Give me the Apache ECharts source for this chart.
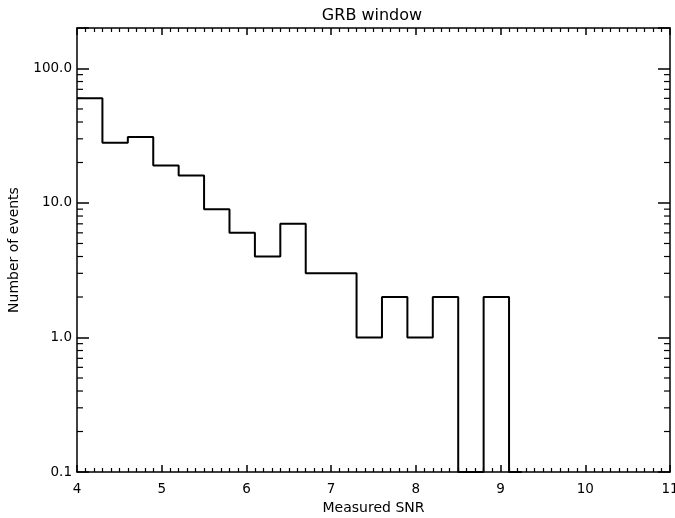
<!DOCTYPE html>
<html>
<head>
<meta charset="utf-8">
<script src="https://cdn.jsdelivr.net/npm/echarts@6/dist/echarts.min.js"></script>
<style>
  html, body { margin: 0; padding: 0; background: #fff; }
  #main { width: 675px; height: 518px; }
</style>
</head>
<body>
<div id="main"></div>
<script>
// histogram bins (left edges) and counts
const binStart = [4.0, 4.3, 4.6, 4.9, 5.2, 5.5, 5.8, 6.1, 6.4, 6.7, 7.0, 7.3, 7.6, 7.9, 8.2, 8.5, 8.8, 9.1];
const counts   = [60, 28, 31, 19, 16, 9, 6, 4, 7, 3, 3, 1, 2, 1, 2, 0, 2, 0];
const lastEdge = 9.25;

const xMin = 4, xMax = 11;
const yMin = 0.1, yMax = 200;
const decades = [0.1, 1, 10, 100];

// empty bins sit on the floor of the log axis
const steps = binStart.map((x, i) => [x, counts[i] > 0 ? counts[i] : yMin]);
steps.push([lastEdge, yMin]);

// minor ticks 2..9 per decade for the log axis
const minorY = [];
decades.forEach(d => {
  for (let m = 2; m <= 9; m++) {
    const v = +(m * d).toPrecision(3);
    if (v < yMax) minorY.push([xMin, v]);
  }
});

const font = 'DejaVu Sans';
const black = '#000';

const isDecade = v => Math.abs(Math.log10(v) - Math.round(Math.log10(v))) < 1e-6;

const xBase = {
  type: 'value', min: xMin, max: xMax, interval: 1,
  axisLine: { show: true, onZero: false, lineStyle: { color: black, width: 1.5 } },
  axisTick: { show: true, inside: true, length: 7, lineStyle: { color: black, width: 1.5 } },
  minorTick: { show: true, splitNumber: 10, length: 4, lineStyle: { color: black, width: 1.2 } },
  splitLine: { show: false },
  minorSplitLine: { show: false }
};
const yBase = {
  type: 'log', logBase: 10, min: yMin, max: yMax,
  axisLine: { show: true, onZero: false, lineStyle: { color: black, width: 1.5 } },
  axisTick: { show: true, inside: true, length: 12, lineStyle: { color: black, width: 1.5 } },
  splitLine: { show: false }
};

const chart = echarts.init(document.getElementById('main'));
chart.setOption({
  animation: false,
  backgroundColor: '#fff',
  title: {
    text: 'GRB window',
    left: 367, top: 3, textAlign: 'center',
    textStyle: { fontFamily: font, fontSize: 16, fontWeight: 'normal', color: black }
  },
  grid: { left: 77, right: 5, top: 28, bottom: 46, outerBoundsMode: 'none', containLabel: false },
  xAxis: [
    Object.assign({}, xBase, {
      position: 'bottom',
      name: 'Measured SNR', nameLocation: 'middle', nameGap: 29,
      nameTextStyle: { fontFamily: font, fontSize: 14, color: black },
      axisLabel: { margin: 10, fontFamily: font, fontSize: 13.5, color: black }
    }),
    Object.assign({}, xBase, { position: 'top', axisLabel: { show: false } })
  ],
  yAxis: [
    Object.assign({}, yBase, {
      position: 'left',
      name: 'Number of events', nameLocation: 'middle', nameGap: 56,
      nameTextStyle: { fontFamily: font, fontSize: 14, color: black },
      axisLabel: {
        margin: 5, fontFamily: font, fontSize: 13.5, color: black,
        formatter: v => isDecade(v) ? v.toFixed(1) : ''
      }
    }),
    Object.assign({}, yBase, { position: 'right', axisLabel: { show: false } })
  ],
  series: [
    {
      type: 'line',
      step: 'end',
      data: steps,
      symbol: 'none',
      clip: false,
      lineStyle: { color: black, width: 2 },
      z: 5
    },
    {
      type: 'custom',
      data: minorY,
      encode: { x: 0, y: 1 },
      clip: false,
      renderItem: (params, api) => {
        const v = api.value(1);
        const l = api.coord([xMin, v]);
        const r = api.coord([xMax, v]);
        return {
          type: 'group',
          children: [
            { type: 'line', shape: { x1: l[0], y1: l[1], x2: l[0] + 6, y2: l[1] }, style: { stroke: black, lineWidth: 1.2 } },
            { type: 'line', shape: { x1: r[0], y1: r[1], x2: r[0] - 6, y2: r[1] }, style: { stroke: black, lineWidth: 1.2 } }
          ]
        };
      }
    }
  ]
});
</script>
</body>
</html>
